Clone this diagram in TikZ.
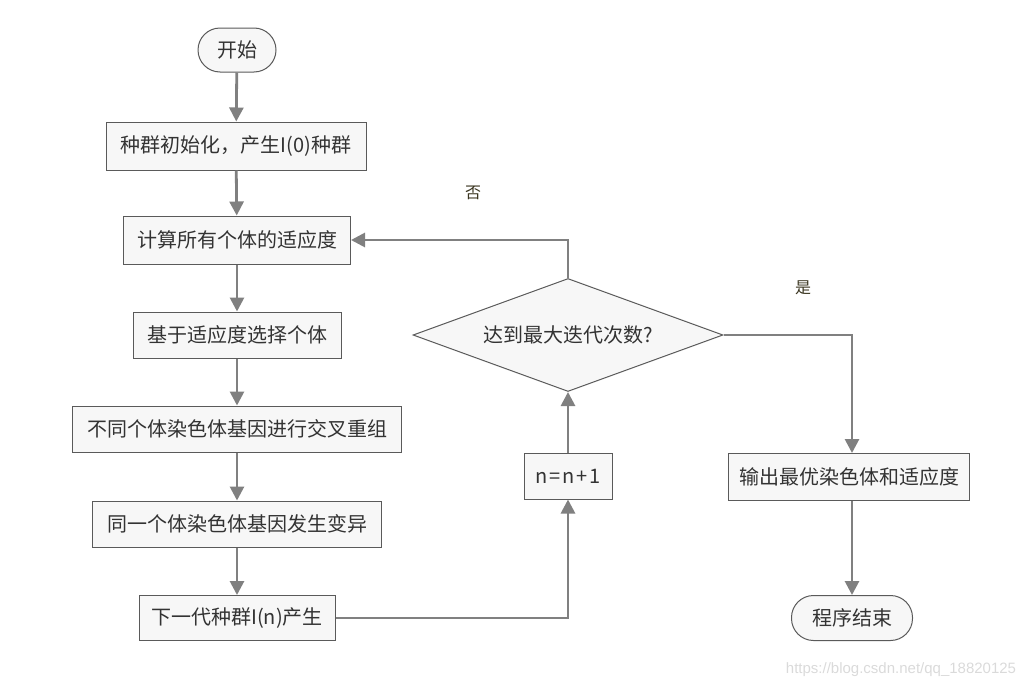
\documentclass[tikz,border=0pt]{standalone}
\usepackage{fontspec}
\setmainfont{Noto Sans CJK SC}
\newfontfamily\markfont{Liberation Sans}
\usepackage{tikz}
\usetikzlibrary{arrows.meta,shapes.geometric}
\definecolor{flowgray}{HTML}{808080}
\definecolor{boxfill}{HTML}{F7F7F7}
\definecolor{boxline}{HTML}{5A5A5A}
\definecolor{textgray}{HTML}{333333}
\definecolor{branchtext}{HTML}{3A3520}
\definecolor{markgray}{HTML}{DADADA}

\begin{document}
\begin{tikzpicture}[
    x=1pt, y=-1pt,
    box/.style={draw=boxline, line width=1pt, fill=boxfill, align=center,
        minimum height=46pt, inner sep=0pt, text=textgray,
        font=\fontsize{20}{24}\selectfont},
    terminal/.style={box, rounded corners=22pt, minimum height=44pt},
    decision/.style={box, diamond, aspect=2.75, minimum width=310pt, minimum height=113pt},
    arrow/.style={-{Triangle[length=14pt,width=14pt]}, line width=2.8pt, draw=flowgray},
    branch/.style={text=branchtext, font=\fontsize{16}{18}\selectfont}
]
\useasboundingbox (0,0) rectangle (1032,688);
% main column
\node[terminal, minimum width=78pt] (start) at (237,50) {开始};
\node[box, minimum width=260pt, minimum height=48pt] (init) at (236,146) {种群初始化，产生I(0)种群};
\node[box, minimum width=227pt, minimum height=48pt] (fitness) at (237,240) {计算所有个体的适应度};
\node[box, minimum width=208pt] (select) at (237,335) {基于适应度选择个体};
\node[box, minimum width=329pt] (cross) at (237,429) {不同个体染色体基因进行交叉重组};
\node[box, minimum width=289pt] (mutate) at (237,524) {同一个体染色体基因发生变异};
\node[box, minimum width=196pt, minimum height=45pt] (nextgen) at (237,618) {下一代种群I(n)产生};
% loop and exit
\node[decision] (check) at (568,335) {达到最大迭代次数?};
\node[box, minimum width=88pt] (incr) at (568,476) {n\kern2pt=\kern2pt n\kern2pt+\kern2pt1};
\node[box, minimum width=241pt, minimum height=47pt] (output) at (849,477) {输出最优染色体和适应度};
\node[terminal, minimum width=121pt, minimum height=45pt] (finish) at (852,618) {程序结束};
\node[branch] (no) at (473,193) {否};
\node[branch] (yes) at (803,288) {是};
\node[text=markgray, font=\fontsize{15}{17}\markfont] (mark) at (901,670) {https://blog.csdn.net/qq\_18820125};
\draw[arrow] (start) -- (init);
\draw[arrow] (init) -- (fitness);
\draw[arrow] (fitness) -- (select);
\draw[arrow] (select) -- (cross);
\draw[arrow] (cross) -- (mutate);
\draw[arrow] (mutate) -- (nextgen);
\draw[arrow] (nextgen.east) -| (incr.south);
\draw[arrow] (incr) -- (check);
\draw[arrow] (check.north) |- (fitness.east);
\draw[arrow] (check.east) -| (finish.north |- output.north);
\draw[arrow] (finish.north |- output.south) -- (finish.north);
\end{tikzpicture}
\end{document}
